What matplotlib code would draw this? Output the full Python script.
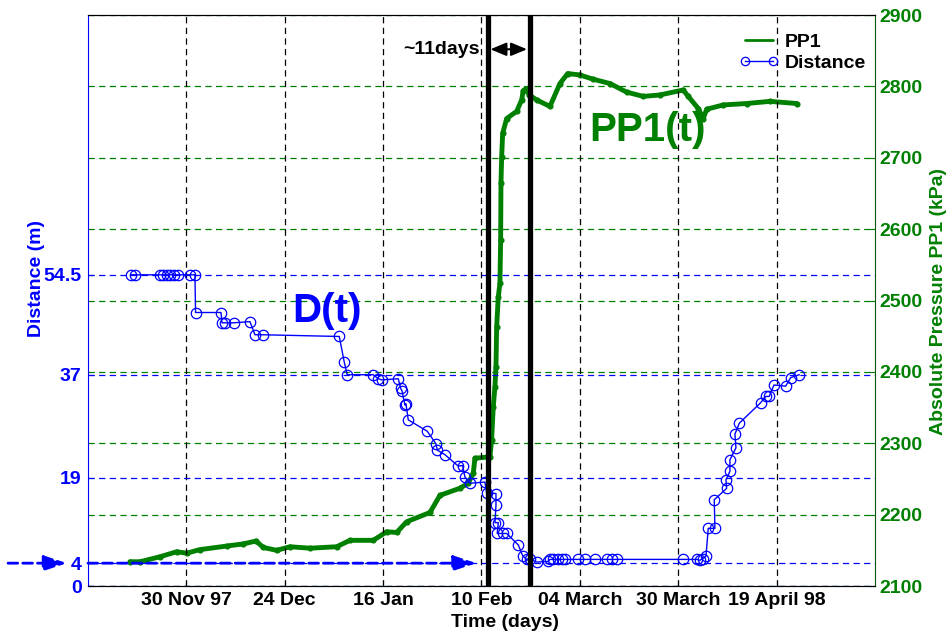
import matplotlib
matplotlib.use('Agg')
import matplotlib.pyplot as plt

plt.rcParams['font.family'] = ['Liberation Sans', 'DejaVu Sans']
plt.rcParams['font.weight'] = 'bold'

# ---------------- data (days since start of record) ----------------
dist_day = [10.49, 11.47, 17.57, 18.42, 19.27, 20.13, 20.98, 21.96, 24.88, 26.10,
            26.25, 32.45, 32.69, 33.54, 35.62, 39.52, 40.74, 42.77, 61.31, 62.53,
            63.26, 69.60, 70.82, 71.65, 75.70, 76.29, 76.60, 77.34, 77.58, 78.14,
            82.78, 84.90, 85.22, 87.09, 90.34, 91.41, 91.97, 93.19, 96.85, 97.27,
            99.54, 99.54, 99.29, 100.10, 99.85, 101.17, 102.15, 104.98, 106.05, 107.02,
            107.83, 109.46, 112.30, 112.71, 113.52, 114.74, 115.56, 116.37, 119.61, 121.25,
            123.69, 126.69, 127.76, 128.98, 145.23, 148.50, 149.30, 149.96, 150.77, 151.33,
            152.96, 152.79, 155.82, 155.65, 156.62, 156.62, 158.09, 157.84, 158.89, 164.11,
            165.40, 166.21, 167.36, 170.21, 171.43, 173.53]
dist_m = [54.5, 54.5, 54.5, 54.5, 54.5, 54.5, 54.5, 54.5, 54.5, 54.5,
          47.9, 47.9, 46.1, 46.1, 46.1, 46.3, 44.0, 44.0, 43.7, 39.2,
          37.0, 37.0, 36.3, 36.1, 36.3, 34.6, 34.2, 31.7, 31.9, 29.1,
          27.1, 24.9, 23.8, 23.0, 21.0, 21.1, 19.1, 18.0, 18.2, 16.3,
          16.2, 14.1, 11.1, 11.1, 9.2, 9.2, 9.2, 7.2, 5.3, 4.66,
          4.7, 4.2, 4.3, 4.66, 4.66, 4.66, 4.66, 4.66, 4.66, 4.66,
          4.66, 4.66, 4.66, 4.66, 4.66, 4.66, 4.5, 4.8, 5.2, 10.1,
          10.1, 15.1, 17.1, 18.6, 20.1, 22.1, 24.2, 26.6, 28.5, 32.1,
          33.2, 33.2, 35.2, 35.0, 36.5, 37.0]

pp1_day = [10.25, 12.69, 17.57, 21.64, 24.08, 27.32, 33.84, 37.89, 40.99, 42.77,
           46.04, 49.28, 54.16, 60.67, 63.92, 69.60, 72.87, 75.31, 77.75, 83.43,
           85.87, 90.75, 92.78, 94.00, 94.41, 98.07, 98.48, 98.88, 99.29, 99.54,
           99.71, 100.10, 100.51, 100.68, 100.76, 100.93, 101.17, 102.15, 104.59, 105.81,
           106.20, 106.86, 107.66, 109.46, 112.71, 115.15, 117.03, 120.03, 123.28, 127.35,
           131.42, 135.47, 139.55, 145.23, 146.45, 148.89, 150.11, 150.94, 154.99, 160.70,
           166.38, 172.89]
pp1_kpa = [2134, 2134, 2141, 2148, 2146, 2151, 2156, 2159, 2163, 2154,
           2150, 2155, 2153, 2155, 2164, 2164, 2176, 2175, 2190, 2203,
           2227, 2237, 2244, 2258, 2279, 2281, 2305, 2351, 2379, 2407,
           2463, 2505, 2524, 2585, 2664, 2701, 2734, 2755, 2765, 2781,
           2794, 2797, 2788, 2781, 2772, 2804, 2818, 2816, 2810, 2804,
           2792, 2786, 2788, 2795, 2786, 2769, 2755, 2768, 2774, 2776,
           2779, 2776]

xtick_days = [24, 48, 72, 96, 120, 144, 168]
xtick_labels = ['30 Nov 97', '24 Dec', '16 Jan', '10 Feb', '04 March', '30 March', '19 April 98']
dist_ticks = [0, 4, 19, 37, 54.5]
dist_tick_labels = ['0', '4', '19', '37', '54.5']
pp1_ticks = [2100, 2200, 2300, 2400, 2500, 2600, 2700, 2800, 2900]
event_days = [97.5, 107.8]   # the two thick black markers (~11 days apart)

BLUE = '#0000ff'
GREEN = '#008000'

fig = plt.figure(figsize=(9.53, 6.36), dpi=100)
ax = fig.add_axes([0.0923, 0.0786, 0.8258, 0.8978])
ax2 = ax.twinx()
ax.set_zorder(ax2.get_zorder() + 1)
ax.patch.set_visible(False)

ax.set_xlim(0, 192)
ax.set_ylim(0, 100)
ax2.set_ylim(2100, 2900)

dash = (0, (5, 3.5))
# grids
ax.set_xticks(xtick_days)
ax.set_xticklabels(xtick_labels)
ax.set_yticks(dist_ticks)
ax.set_yticklabels(dist_tick_labels)
ax2.set_yticks(pp1_ticks)
ax.xaxis.grid(True, color='k', linestyle=dash, linewidth=0.9)
ax.yaxis.grid(True, color=BLUE, linestyle=dash, linewidth=0.9)
ax2.yaxis.grid(True, color=GREEN, linestyle=dash, linewidth=0.9)
ax.set_axisbelow(True)
ax2.set_axisbelow(True)

# series
pp1_line, = ax2.plot(pp1_day, pp1_kpa, color=GREEN, lw=3.5, marker='o', ms=3.4,
                     solid_joinstyle='round', solid_capstyle='round', label='PP1')
dist_line, = ax.plot(dist_day, dist_m, color=BLUE, lw=1.0, marker='o', ms=7.5,
                     mfc='none', mec=BLUE, mew=0.9, label='Distance')

# event markers
for d in event_days:
    ax.axvline(d, color='k', lw=3.8, zorder=6)
ax.annotate('', xy=(event_days[0], 94), xytext=(event_days[1], 94),
            arrowprops=dict(arrowstyle='<|-|>,head_length=0.6,head_width=0.25', color='k',
                            lw=1.5, mutation_scale=16, shrinkA=2, shrinkB=2), zorder=7)
ax.text(95.7, 94, '~11days', ha='right', va='center', fontsize=14, color='k')

# curve labels
ax.text(58.3, 48.2, 'D(t)', color=BLUE, fontsize=29, ha='center', va='center')
ax2.text(136.4, 2739, 'PP1(t)', color=GREEN, fontsize=29, ha='center', va='center')

# arrows at the 4 m level
arrow_style = dict(arrowstyle='-|>,head_length=0.7,head_width=0.23', color=BLUE, lw=2,
                   linestyle=(0, (3.5, 1.8)), mutation_scale=20, shrinkA=0, shrinkB=0)
ax.annotate('', xy=(94.8, 4), xytext=(0, 4), arrowprops=arrow_style, zorder=5)
ax.annotate('', xy=(-5.1, 4), xytext=(-19.5, 4), arrowprops=arrow_style,
            annotation_clip=False)

# axes styling
ax.tick_params(axis='x', colors='k', labelsize=14, direction='in', length=4, pad=4)
ax.tick_params(axis='y', colors=BLUE, labelsize=14, direction='in', length=4, pad=4.5)
ax2.tick_params(axis='y', colors=GREEN, labelsize=14, direction='in', length=4, pad=3)
for lab in ax.get_xticklabels() + ax.get_yticklabels() + ax2.get_yticklabels():
    lab.set_fontweight('bold')

ax.spines['left'].set_color(BLUE)
ax.spines['right'].set_visible(False)
ax2.spines['left'].set_visible(False)
ax2.spines['right'].set_color('#0b5a0b')
for a in (ax, ax2):
    a.spines['top'].set_color('k')
    a.spines['bottom'].set_color('k')

ax.set_ylabel('Distance (m)', color=BLUE, fontsize=14, fontweight='bold')
ax.yaxis.set_label_coords(-0.054, 0.538)
ax2.set_ylabel('Absolute Pressure PP1 (kPa)', color=GREEN, fontsize=14, fontweight='bold')
ax2.yaxis.set_label_coords(1.070, 0.498)
ax.set_xlabel('Time (days)', color='k', fontsize=14, fontweight='bold')
ax.xaxis.set_label_coords(0.53, -0.049)

leg = ax.legend([pp1_line, dist_line], ['PP1', 'Distance'], loc='upper right',
                bbox_to_anchor=(0.993, 0.975), borderaxespad=0, borderpad=0.2,
                frameon=False, fontsize=14, handlelength=2.0, handletextpad=0.3,
                labelspacing=0.2, numpoints=2)
leg_lines = leg.get_lines()
leg_lines[0].set_marker('')
leg_lines[0].set_linewidth(2)
leg_lines[1].set_markersize(6)
for t in leg.get_texts():
    t.set_fontweight('bold')

fig.savefig('out.png', dpi=100)
